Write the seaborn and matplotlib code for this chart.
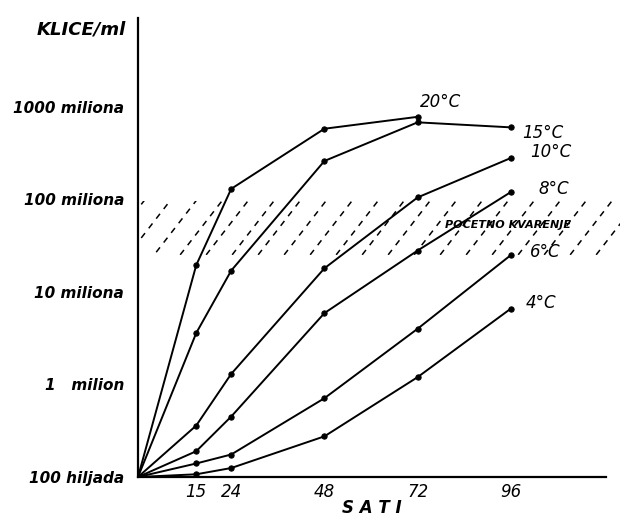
import numpy as np
import pandas as pd
import seaborn as sns
import matplotlib.pyplot as plt

# hours and bacterial counts per ml
sati = [0, 15, 24, 48, 72, 96]
temperature = ['20°C', '15°C', '10°C', '8°C', '6°C', '4°C']
klice_20 = [1e5, 1.95e7, 1.3e8, 5.8e8, 7.8e8]
klice_15 = [1e5, 3.6e6, 1.7e7, 2.6e8, 6.8e8, 6.0e8]
klice_10 = [1e5, 3.6e5, 1.3e6, 1.8e7, 1.05e8, 2.8e8]
klice_8 = [1e5, 1.9e5, 4.5e5, 5.9e6, 2.8e7, 1.2e8]
klice_6 = [1e5, 1.4e5, 1.75e5, 7.1e5, 4.0e6, 2.5e7]
klice_4 = [1e5, 1.07e5, 1.25e5, 2.75e5, 1.2e6, 6.6e6]
series = [klice_20, klice_15, klice_10, klice_8, klice_6, klice_4]

y_ticks = [1e5, 1e6, 1e7, 1e8, 1e9]
y_labels = ['100 hiljada', '1   milion', '10 miliona', '100 miliona', '1000 miliona']
x_ticks = [15, 24, 48, 72, 96]
kvarenje = (2.5e7, 9.5e7)  # pocetno kvarenje band

rows = []
for temp, vals in zip(temperature, series):
    for h, v in zip(sati, vals):
        rows.append({'sati': h, 'klice': v, 'temp': temp})
df = pd.DataFrame(rows)

sns.set_style('white')
plt.rcParams['font.family'] = ['DejaVu Sans']
plt.rcParams['text.color'] = 'black'
plt.rcParams['axes.labelcolor'] = 'black'

fig = plt.figure(figsize=(6.2, 5.26), dpi=100)
ax = fig.add_axes([138 / 620, 1 - 477 / 526, 468 / 620, 459 / 526])

ax.set_yscale('log')
sns.lineplot(data=df, x='sati', y='klice', hue='temp', hue_order=temperature,
             palette=['black'] * 6, marker='o', markersize=3.8,
             markeredgecolor='black', linewidth=1.4, legend=False,
             estimator=None, ax=ax)

ax.set_xlim(0, 120.5)
ax.set_ylim(1e5, 10 ** 9.96)

# dashed hatching for the spoilage band
span = ax.axhspan(kvarenje[0], kvarenje[1], xmax=1.03, fill=False,
                  linewidth=0, clip_on=False)
dx = 508 / np.tan(np.radians(55)) / 468
for off in np.arange(-1.0, 1.2, 26 / 468):
    ln, = ax.plot([off, off + dx], [0, 1], transform=ax.transAxes,
                  color='black', linewidth=1.1, linestyle=(0, (4, 4)))
    ln.set_clip_path(span)
ax.text(0.79, 0.552, 'POČETNO KVARENJE', transform=ax.transAxes,
        fontsize=8, fontstyle='italic', fontweight='bold', ha='center', va='center')

# temperature labels at the ends of the curves
offsets = [(2, 4), (8, -4), (14, 4), (20, 2), (14, 2), (11, 4)]
for temp, vals, off in zip(temperature, series, offsets):
    ax.annotate(temp, (sati[len(vals) - 1], vals[-1]), xytext=off,
                textcoords='offset points', fontsize=12, fontstyle='italic',
                ha='left', va='bottom' if temp == '20°C' else 'center')

ax.set_yticks(y_ticks)
ax.set_yticklabels(y_labels, fontsize=11, fontstyle='italic', fontweight='bold')
ax.yaxis.set_minor_locator(plt.NullLocator())
ax.set_xticks(x_ticks)
ax.set_xticklabels([str(t) for t in x_ticks], fontsize=12, fontstyle='italic')
ax.tick_params(axis='both', direction='inout', length=6, width=1.2,
               colors='black', labelcolor='black')
ax.tick_params(axis='y', direction='out', length=4, pad=6)
ax.tick_params(axis='x', pad=1)

ax.set_xlabel('S A T I', fontsize=12, fontstyle='italic', fontweight='bold', labelpad=-1)
ax.set_ylabel('')
fig.text(81 / 620, 1 - 30 / 526, 'KLICE/ml', fontsize=13, fontstyle='italic',
         fontweight='bold', ha='center', va='center')

for side in ['top', 'right']:
    ax.spines[side].set_visible(False)
for side in ['left', 'bottom']:
    ax.spines[side].set_linewidth(1.6)
    ax.spines[side].set_color('black')

fig.savefig('out.png', dpi=100)
